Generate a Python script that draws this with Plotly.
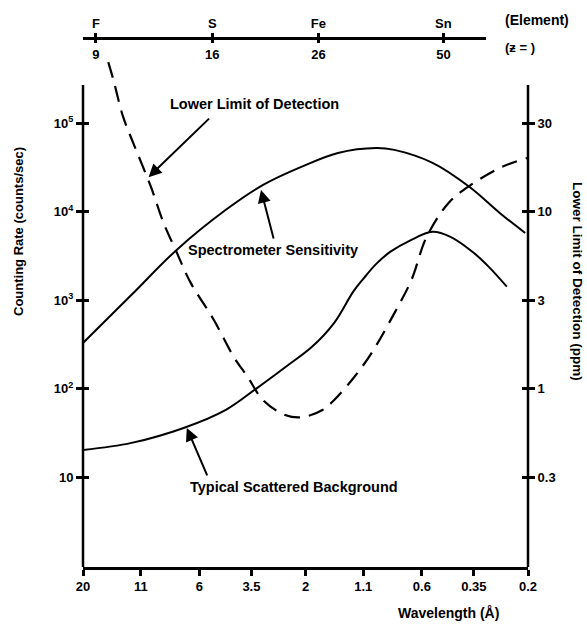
import numpy as np
import plotly.graph_objects as go

# bottom axis: wavelength in Angstrom (log scale, reversed)
wl_ticks = [20, 11, 6, 3.5, 2, 1.1, 0.6, 0.35, 0.2]

# top axis: elements and atomic numbers
elements = ["F", "S", "Fe", "Sn"]
z_numbers = ["9", "16", "26", "50"]
element_wl = [17.5, 5.25, 1.75, 0.48]

# left axis: counting rate (counts/sec)
cps_ticks = [10, 100, 1000, 10000, 100000]
cps_text = ["10", "10<sup>2</sup>", "10<sup>3</sup>", "10<sup>4</sup>", "10<sup>5</sup>"]

# right axis: lower limit of detection (ppm), half a decade per left decade
ppm_text = ["0.3", "1", "3", "10", "30"]

# Spectrometer Sensitivity
sens_wl = [20, 12.1, 7.59, 4.56, 3.1, 2.09, 1.43, 0.962, 0.797, 0.537, 0.366, 0.268, 0.206]
sens_cps = [328, 1150, 3700, 10500, 20100, 32100, 46100, 52500, 49900, 35600, 19000, 9680, 5750]

# Typical Scattered Background
bg_wl = [20, 12.1, 7.06, 4.56, 3.34, 2.45, 1.87, 1.486, 1.22, 1.10, 0.962, 0.83, 0.682, 0.537,
         0.446, 0.351, 0.30, 0.249]
bg_cps = [20.3, 24.4, 36, 57.7, 99.6, 177, 297, 555, 1250, 1740, 2570, 3530, 4680, 5920,
          5190, 3430, 2380, 1420]

# Lower Limit of Detection (ppm)
lld_wl = [15.4, 14.6, 13.2, 11.9, 9.9, 8.69, 7.67, 6.56, 5.17, 4.2, 3.63, 3.1, 2.47, 2.07,
          1.67, 1.49, 1.21, 1.01, 0.796, 0.668, 0.571, 0.455, 0.366, 0.262, 0.202]
lld_ppm = [70, 55.5, 34.3, 24.5, 13.8, 8.64, 6.08, 3.96, 2.45, 1.51, 1.16, 0.86, 0.71, 0.69,
           0.76, 0.86, 1.16, 1.59, 2.68, 4.12, 7.2, 11.2, 14.0, 17.9, 20.1]

FONT = dict(family="Liberation Sans, Arial, sans-serif", size=13, color="black", weight="bold")

# page geometry (pixels)
W, H = 587, 628
left_px, right_px, bottom_px, top_px = 83, 528, 567, 36
ML, MR, MT, MB = left_px, W - right_px, top_px, H - bottom_px
pw, ph = W - ML - MR, H - MT - MB
y_top_px = 58          # top of the drawing area (dashed curve runs above the axes)
axis_top_px = 85       # where the vertical axis lines stop
ydom = (bottom_px - y_top_px) / ph
ybot_log = -0.015
yr = [ybot_log, ybot_log + (bottom_px - y_top_px) / 88.5]   # 88.5 px per decade
xr = [np.log10(20), np.log10(0.2)]

fig = go.Figure()

line_style = dict(color="black", width=2)
fig.add_trace(go.Scatter(x=sens_wl, y=sens_cps, mode="lines", line=dict(shape="spline", smoothing=1.0, **line_style),
                         hoverinfo="skip"))
fig.add_trace(go.Scatter(x=bg_wl, y=bg_cps, mode="lines", line=dict(shape="spline", smoothing=1.0, **line_style),
                         hoverinfo="skip"))
fig.add_trace(go.Scatter(x=lld_wl, y=lld_ppm, mode="lines", yaxis="y2",
                         line=dict(color="black", width=2.2, dash="16px,9px", shape="spline", smoothing=1.0),
                         hoverinfo="skip"))
# invisible helpers so the extra axes are drawn
for xa, ya in [("x2", "y"), ("x3", "y"), ("x", "y3"), ("x", "y4")]:
    fig.add_trace(go.Scatter(x=[2], y=[1], xaxis=xa, yaxis=ya, mode="markers",
                             marker=dict(opacity=0), hoverinfo="skip"))

# top element axis: shorter line, same wavelength scale
dom2 = (486 - left_px) / pw
xr2 = [xr[0], xr[0] + (xr[1] - xr[0]) * dom2]
ypos_top = (bottom_px - 37.5) / ph
top_axis = dict(type="log", range=xr2, domain=[0, dom2], anchor="free", position=ypos_top,
                tickvals=element_wl, showline=True, linecolor="black", linewidth=2.5,
                ticks="outside", ticklen=4, tickwidth=2.5, tickcolor="black",
                showgrid=False, zeroline=False, tickfont=FONT)

ppm_vals = [10 ** (k / 2) for k in (-1, 0, 1, 2, 3)]
y2r = [(yr[0] - 2) / 2, (yr[1] - 2) / 2]

fig.update_layout(
    width=W, height=H,
    margin=dict(l=ML, r=MR, t=MT, b=MB),
    plot_bgcolor="rgba(0,0,0,0)", paper_bgcolor="white",
    showlegend=False,
    font=FONT,
    xaxis=dict(type="log", range=xr, tickvals=wl_ticks, ticktext=[str(v) for v in wl_ticks],
               showline=True, linecolor="black", linewidth=2.5, ticks="outside", ticklen=6,
               tickwidth=2.5, tickcolor="black", showgrid=False, zeroline=False, tickfont=FONT),
    xaxis2=dict(side="top", ticktext=elements, **top_axis),
    xaxis3=dict(side="bottom", ticktext=z_numbers, **top_axis),
    yaxis=dict(type="log", range=yr, domain=[0, ydom], tickvals=cps_ticks, ticktext=cps_text,
               showline=False, ticks="outside", ticklen=6, tickwidth=2.5, tickcolor="black",
               showgrid=False, zeroline=False, tickfont=FONT),
    yaxis3=dict(type="log", range=yr, overlaying="y", tickvals=cps_ticks, showticklabels=False,
                showline=False, ticks="inside", ticklen=6, tickwidth=2.5, tickcolor="black",
                showgrid=False, zeroline=False),
    yaxis2=dict(type="log", range=y2r, overlaying="y", side="right", tickvals=ppm_vals, ticktext=ppm_text,
                showline=False, ticks="outside", ticklen=6, tickwidth=2.5, tickcolor="black",
                showgrid=False, zeroline=False, tickfont=FONT),
    yaxis4=dict(type="log", range=yr, overlaying="y", side="right", tickvals=cps_ticks, showticklabels=False,
                showline=False, ticks="inside", ticklen=6, tickwidth=2.5, tickcolor="black",
                showgrid=False, zeroline=False),
)

# vertical axis lines stop below the top of the drawing area
yline_top = (bottom_px - axis_top_px) / ph
for xp in (0, 1):
    fig.add_shape(type="line", xref="paper", yref="paper", x0=xp, x1=xp, y0=0, y1=yline_top,
                  line=dict(color="black", width=2.5))

def px(x, y):
    return (x - left_px) / pw, (bottom_px - y) / ph

labels = [
    ("Lower Limit of Detection", 254, 104, 0, "center", 14.5),
    ("Spectrometer Sensitivity", 273, 250, 0, "center", 14.5),
    ("Typical Scattered Background", 294, 487, 0, "center", 14.5),
    ("Counting Rate (counts/sec)", 19, 232, -90, "center", 13),
    ("Lower Limit of Detection (ppm)", 578, 281, 90, "center", 13.5),
    ("Wavelength (Å)", 448, 613, 0, "center", 14),
    ("(Element)", 503, 20, 0, "left", 14),
    ("(ƶ = )", 503, 47, 0, "left", 13),
]
for text, x, y, ang, anchor, size in labels:
    xp, yp = px(x, y)
    fig.add_annotation(text=text, xref="paper", yref="paper", x=xp, y=yp, showarrow=False,
                       textangle=ang, xanchor=anchor, yanchor="middle", font=dict(FONT, size=size))

# arrows pointing at the curves (tip in data coords, tail offset in pixels)
arrows = [(10.15, 10 ** 4.39, 62, -60), (3.17, 10 ** 4.246, 13, 50), (6.83, 36, 21, 49)]
for wl, c, ax, ay in arrows:
    fig.add_annotation(x=np.log10(wl), y=np.log10(c), xref="x", yref="y", text="", showarrow=True,
                       ax=ax, ay=ay, arrowhead=2, arrowsize=1.3, arrowwidth=2, arrowcolor="black")

# drop the default page margin so the figure sits at the window's corner
fig.write_html("out.html", config={"displayModeBar": False},
               post_script="document.body.style.margin='0';")
